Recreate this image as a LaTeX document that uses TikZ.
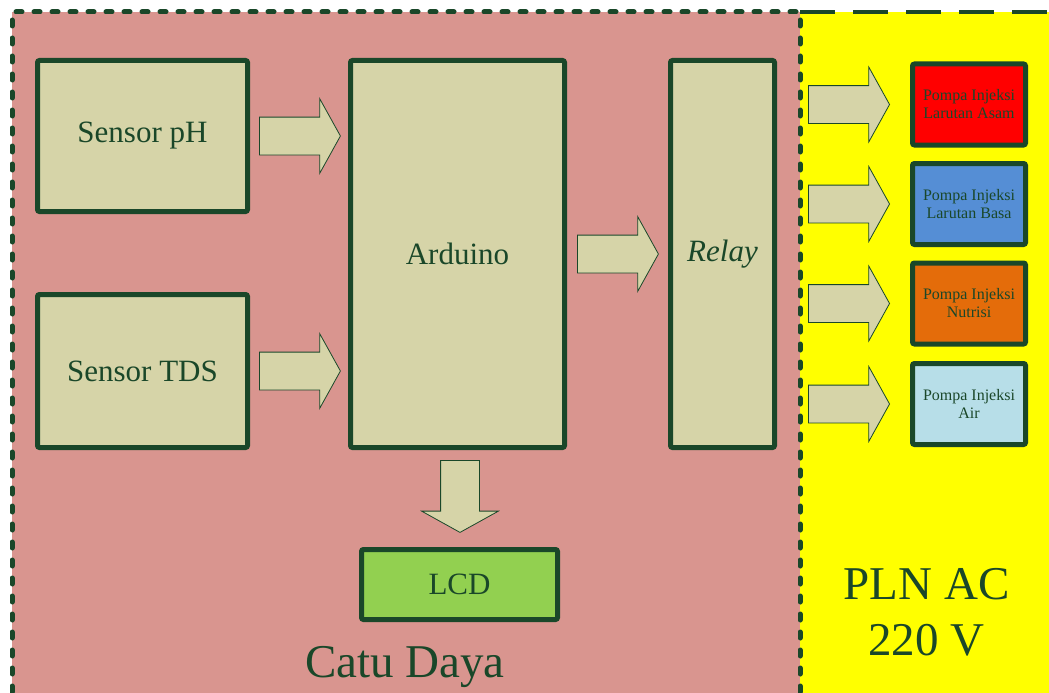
\documentclass[tikz,border=0pt]{standalone}
\usepackage{fontspec}
\setmainfont{Liberation Serif}
\usetikzlibrary{positioning,shapes.arrows,calc}
\definecolor{hijautua}{HTML}{1A4729}
\definecolor{krem}{HTML}{D6D4A8}
\definecolor{merahmuda}{HTML}{D9958F}
\definecolor{kuning}{HTML}{FFFF00}
\definecolor{merah}{HTML}{FF0000}
\definecolor{biru}{HTML}{558ED5}
\definecolor{oranye}{HTML}{E46C0A}
\definecolor{birumuda}{HTML}{B7DEE8}
\definecolor{hijaulcd}{HTML}{92D050}
\tikzset{
  % kotak blok utama
  blok/.style={draw=hijautua, fill=krem, line width=5pt, rounded corners=2pt,
               text=hijautua, inner sep=0pt, align=center,
               font=\fontsize{31}{36}\selectfont},
  % kotak pompa (sisi AC)
  pompa/.style={blok, minimum width=113pt, minimum height=81pt,
                font=\fontsize{16}{18}\selectfont},
  % panah blok
  panah/.style={single arrow, draw=hijautua, fill=krem, line width=0.8pt,
                minimum height=81pt, minimum width=0pt, inner xsep=0pt, inner ysep=18.5pt,
                single arrow head extend=18.5pt, single arrow tip angle=122},
  % batas area
  batasdc/.style={draw=hijautua, line width=5pt, line cap=round, dash pattern=on 6pt off 12pt},
  batasac/.style={draw=hijautua, line width=4pt, dash pattern=on 35pt off 18pt},
  judul/.style={text=hijautua, font=\fontsize{47}{56}\selectfont, align=center}
}
\begin{document}
\begin{tikzpicture}[x=1pt, y=-1pt]
\useasboundingbox (0,0) rectangle (1049,693);
\clip (0,0) rectangle (1049,693);

% ===== latar area =====
\fill[merahmuda] (12,12) rectangle (800,710);
\fill[kuning] (800,12) rectangle (1060,710);
\draw[batasac] (800,12) -- (1060,12);
\draw[batasdc] (12,710) -- (12,12) -- (800,12) -- (800,710);

% ===== blok sisi DC =====
\node[blok, minimum width=210pt, minimum height=151pt] (ph) at (142.5,136) {Sensor pH};
\node[blok, minimum width=210pt, minimum height=153pt] (tds) at (142.5,371) {Sensor TDS};
\node[blok, minimum width=214pt, minimum height=387pt] (ard) at (457.5,254) {Arduino};
\node[blok, minimum width=104pt, minimum height=387pt] (rel) at (722.5,254) {\textit{Relay}};
\node[blok, fill=hijaulcd, minimum width=196pt, minimum height=70pt] (lcd) at (459.5,584.5) {LCD};

\node[panah, right=9pt of ph] (p1) {};
\node[panah, right=9pt of tds] (p2) {};
\node[panah, right=10pt of ard] (p3) {};
\node[panah, rotate=-90, anchor=west, minimum height=72pt, inner ysep=19pt,
      single arrow head extend=19pt] (p4) at ($(ard.south)+(2.5pt,-10pt)$) {};

% ===== blok sisi AC =====
\node[pompa, fill=merah] (asam) at (969,104.5) {Pompa Injeksi\\Larutan Asam};
\node[pompa, fill=biru] (basa) at (969,204) {Pompa Injeksi\\Larutan Basa};
\node[pompa, fill=oranye] (nutrisi) at (969,303.5) {Pompa Injeksi\\Nutrisi};
\node[pompa, fill=birumuda] (air) at (969,404) {Pompa Injeksi\\Air};

\foreach \p in {asam,basa,nutrisi,air}
  \node[panah, left=20pt of \p] (pa-\p) {};

% ===== label area =====
\node[judul, anchor=base] (catu) at (405,677) {Catu Daya};
\node[judul] (pln) at (926.5,612) {PLN AC\\220 V};
\end{tikzpicture}
\end{document}
